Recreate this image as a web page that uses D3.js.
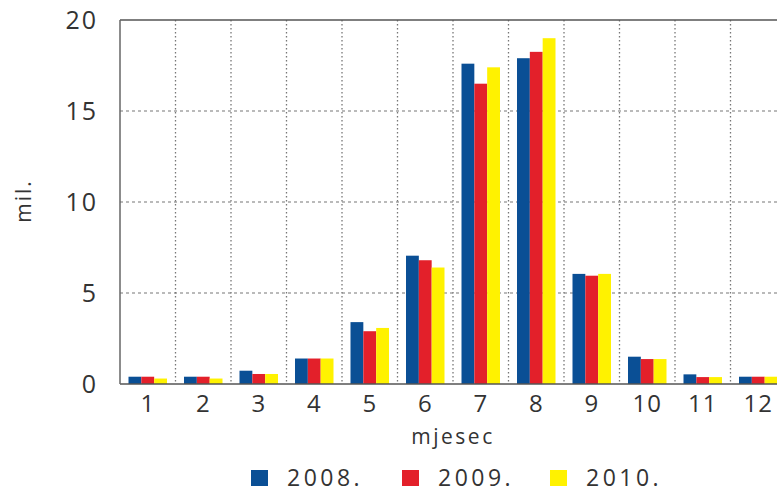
<!DOCTYPE html>
<html>
<head>
<meta charset="utf-8">
<script src="https://cdn.jsdelivr.net/npm/d3@7"></script>
<style>
  body { margin: 0; background: #fff; }
  svg { display: block; font-family: "Open Sans", sans-serif; }
</style>
</head>
<body>
<svg id="chart"></svg>
<script>
// data
const months = ['1', '2', '3', '4', '5', '6', '7', '8', '9', '10', '11', '12'];
const years = ['2008.', '2009.', '2010.'];
const v2008 = [0.4, 0.4, 0.73, 1.4, 3.4, 7.05, 17.6, 17.9, 6.05, 1.5, 0.53, 0.4];
const v2009 = [0.4, 0.4, 0.55, 1.4, 2.9, 6.8, 16.5, 18.25, 5.95, 1.37, 0.38, 0.4];
const v2010 = [0.3, 0.3, 0.55, 1.4, 3.08, 6.4, 17.4, 19.0, 6.05, 1.37, 0.38, 0.4];
const yTicks = [0, 5, 10, 15, 20];
const colors = ['#0a4f95', '#e3202a', '#fff200'];

const width = 777, height = 493;
const svg = d3.select('#chart').attr('width', width).attr('height', height);

const series = [v2008, v2009, v2010];
const rows = [];
months.forEach((m, i) => {
  series.forEach((s, j) => rows.push({month: m, year: years[j], value: s[i], k: j}));
});

const xScale = d3.scaleBand().domain(months).range([120, 786]).padding(0);
const xSub = d3.scaleBand().domain(years).range([8.5, xScale.bandwidth() - 8.5]).padding(0);
const yScale = d3.scaleLinear().domain([0, 20]).range([384, 20]);

// grid
svg.append('g').selectAll('line')
  .data([5, 10, 15])
  .join('line')
  .attr('x1', 120).attr('x2', 786)
  .attr('y1', d => yScale(d)).attr('y2', d => yScale(d))
  .attr('stroke', '#777').attr('stroke-width', 1.2)
  .attr('stroke-dasharray', '3,3');

svg.append('g').selectAll('line')
  .data(months.slice(1))
  .join('line')
  .attr('x1', d => xScale(d)).attr('x2', d => xScale(d))
  .attr('y1', yScale(20)).attr('y2', yScale(0))
  .attr('stroke', '#777').attr('stroke-width', 1.3)
  .attr('stroke-dasharray', '1.5,2.5');

// bars
svg.append('g').selectAll('rect')
  .data(rows)
  .join('rect')
  .attr('x', d => xScale(d.month) + xSub(d.year))
  .attr('y', d => yScale(d.value))
  .attr('width', xSub.bandwidth())
  .attr('height', d => yScale(0) - yScale(d.value))
  .attr('fill', d => colors[d.k]);

// frame
svg.append('line')
  .attr('x1', 120).attr('x2', 786)
  .attr('y1', yScale(20)).attr('y2', yScale(20))
  .attr('stroke', '#555').attr('stroke-width', 1.3);
svg.append('line')
  .attr('x1', 120).attr('x2', 786)
  .attr('y1', yScale(0)).attr('y2', yScale(0))
  .attr('stroke', '#555').attr('stroke-width', 1.5);
svg.append('line')
  .attr('x1', 120).attr('x2', 120)
  .attr('y1', yScale(20)).attr('y2', yScale(0))
  .attr('stroke', '#666').attr('stroke-width', 1.5);

// axes (labels only)
const yAxis = svg.append('g')
  .attr('transform', 'translate(120,0)')
  .call(d3.axisLeft(yScale).tickValues(yTicks).tickSize(0).tickPadding(22));
yAxis.select('.domain').remove();
yAxis.selectAll('text')
  .attr('fill', '#333')
  .style('font-size', '25px')
  .style('letter-spacing', '2px')
  .style('font-family', '"Open Sans", sans-serif');

const xAxis = svg.append('g')
  .attr('transform', `translate(0,${yScale(0)})`)
  .call(d3.axisBottom(xScale).tickSize(0).tickPadding(11));
xAxis.select('.domain').remove();
xAxis.selectAll('text')
  .attr('fill', '#333')
  .style('font-size', '24px')
  .style('letter-spacing', '1px')
  .style('font-family', '"Open Sans", sans-serif');

// axis titles
svg.append('text')
  .attr('transform', 'translate(31,201) rotate(-90)')
  .attr('text-anchor', 'middle')
  .attr('fill', '#333')
  .style('font-size', '21px')
  .style('letter-spacing', '2px')
  .text('mil.');

svg.append('text')
  .attr('x', 453).attr('y', 444)
  .attr('text-anchor', 'middle')
  .attr('fill', '#333')
  .style('font-size', '21px')
  .style('letter-spacing', '2.5px')
  .text('mjesec');

// legend
const legendX = [251, 402, 550];
const legend = svg.append('g').selectAll('g')
  .data(years)
  .join('g')
  .attr('transform', (d, i) => `translate(${legendX[i]},470)`);
legend.append('rect')
  .attr('width', 17).attr('height', 16)
  .attr('fill', (d, i) => colors[i]);
legend.append('text')
  .attr('x', 36).attr('y', 16)
  .attr('fill', '#333')
  .style('font-size', '23px')
  .style('letter-spacing', '3.5px')
  .text(d => d);
</script>
</body>
</html>
